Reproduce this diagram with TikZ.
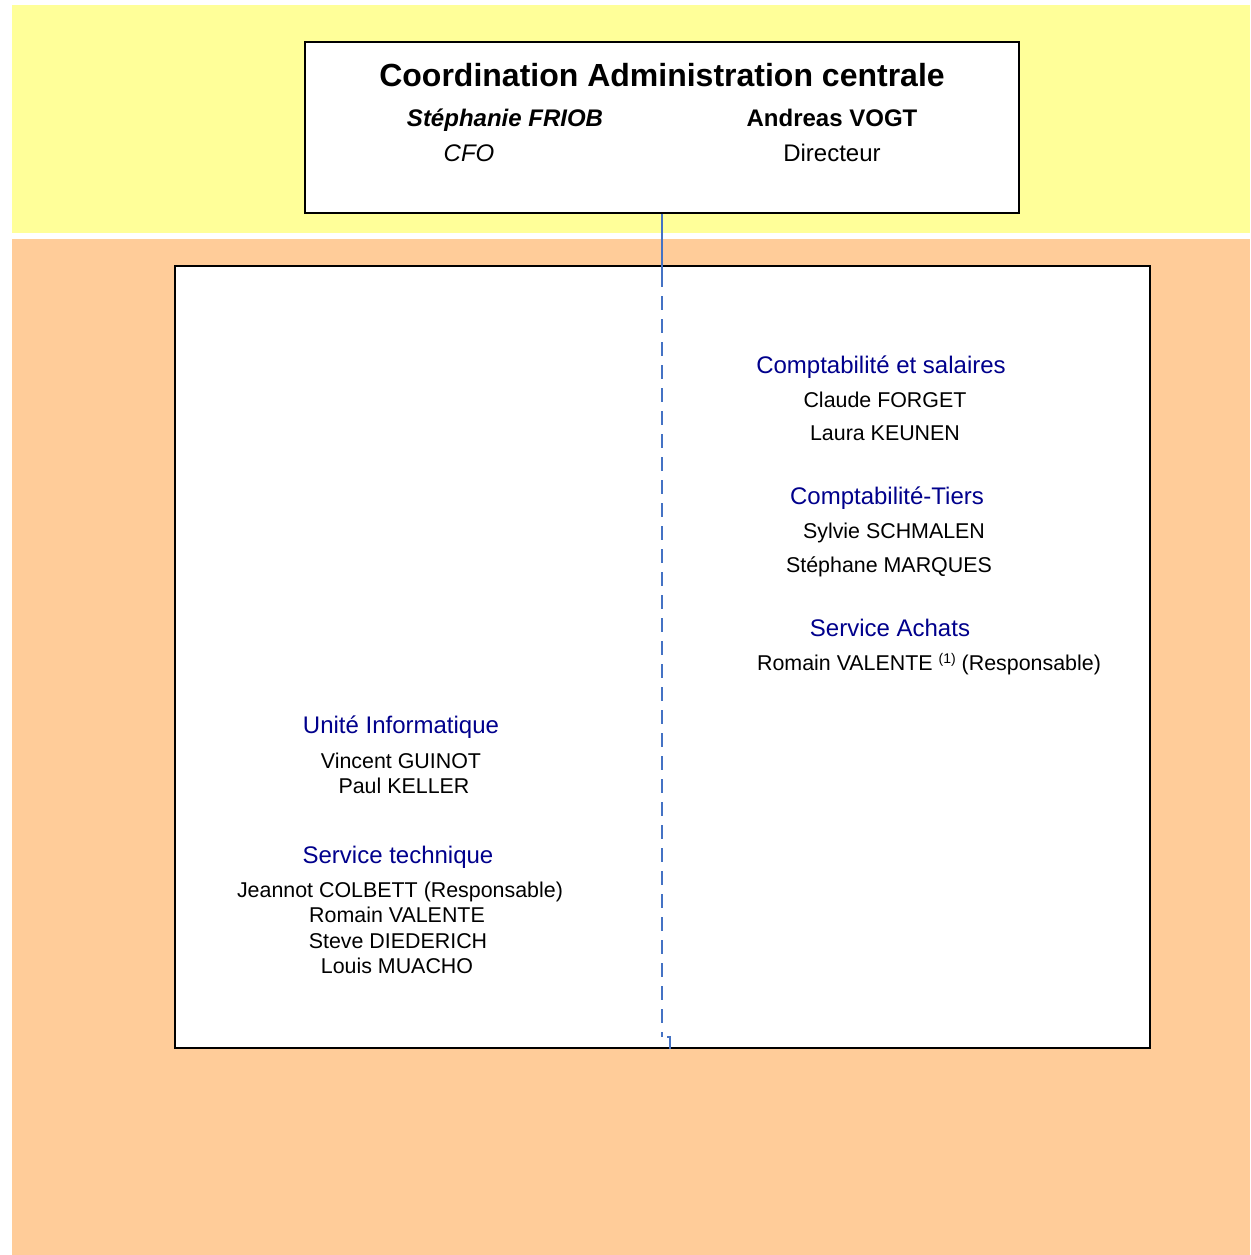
\documentclass[tikz,border=0pt]{standalone}
\usepackage{fontspec}
\setmainfont{Liberation Sans}
\definecolor{bandyellow}{RGB}{255,255,153}
\definecolor{bandorange}{RGB}{255,204,153}
\definecolor{linkblue}{RGB}{68,114,196}
\definecolor{headblue}{RGB}{0,0,140}
\tikzset{
  frame/.style={draw=black, line width=1.8pt, fill=white, inner sep=0pt},
  title/.style={anchor=base, inner sep=0pt, font=\fontsize{32}{36}\selectfont\bfseries},
  lead/.style={anchor=base, inner sep=0pt, font=\fontsize{24}{28}\selectfont},
  head/.style={anchor=base, inner sep=0pt, text=headblue, font=\fontsize{24}{28}\selectfont},
  person/.style={anchor=base, inner sep=0pt, font=\fontsize{21.4}{25}\selectfont},
  conn/.style={draw=linkblue, line width=1.8pt},
  dashconn/.style={conn, dash pattern=on 14pt off 9pt}
}
\begin{document}
\begin{tikzpicture}[x=1pt, y=-1pt]
\useasboundingbox (0,0) rectangle (1250,1255);
% background bands
\fill[bandyellow] (12,5) rectangle (1250,233);
\fill[bandorange] (12,239) rectangle (1250,1255);
% boxes
\node[frame, minimum width=714pt, minimum height=171pt] (top) at (662,127.5) {};
\node[frame, line width=1.5pt, minimum width=975pt, minimum height=782pt] (panel) at (662.5,657) {};
% connector
\coordinate (c1) at (top.south |- 0,273);
\coordinate (c2) at (top.south |- 0,1037);
\coordinate (c3) at (670,1037);
\coordinate (c4) at (c3 |- panel.south);
\draw[conn] (top.south) -- (c1);
\draw[dashconn] (c1) -- (c2);
\draw[conn] ([xshift=-3pt]c3) -- (c3) -- (c4);
% top box text
\node[title] (ttl) at (662,86.5) {Coordination Administration centrale};
\node[lead, font=\fontsize{24}{28}\selectfont\bfseries\itshape] (cfoname) at (505,126.6) {Stéphanie FRIOB};
\node[lead, font=\fontsize{24}{28}\selectfont\bfseries] (dirname) at (832,126.6) {Andreas VOGT};
\node[lead, font=\fontsize{24}{28}\selectfont\itshape] (cfo) at (469,161.6) {CFO};
\node[lead] (dir) at (832,161.6) {Directeur};
% right column
\node[head] (h1) at (881,373.6) {Comptabilité et salaires};
\node[person] (p1) at (885,407.5) {Claude FORGET};
\node[person] (p2) at (885,440.5) {Laura KEUNEN};
\node[head] (h2) at (887,504.6) {Comptabilité-Tiers};
\node[person] (p3) at (894,538.5) {Sylvie SCHMALEN};
\node[person] (p4) at (889,572.5) {Stéphane MARQUES};
\node[head] (h3) at (890,636.6) {Service Achats};
\node[person] (p5) at (929,670.5) {Romain VALENTE \raisebox{7pt}{\fontsize{14}{14}\selectfont(1)} (Responsable)};
% left column
\node[head] (h4) at (401,733.6) {Unité Informatique};
\node[person] (p6) at (401,768.5) {Vincent GUINOT};
\node[person] (p7) at (404,793.5) {Paul KELLER};
\node[head] (h5) at (398,863.6) {Service technique};
\node[person] (p8) at (400,897.5) {Jeannot COLBETT (Responsable)};
\node[person] (p9) at (397,922.5) {Romain VALENTE};
\node[person] (p10) at (398,948.5) {Steve DIEDERICH};
\node[person] (p11) at (397,973.5) {Louis MUACHO};
\end{tikzpicture}
\end{document}
